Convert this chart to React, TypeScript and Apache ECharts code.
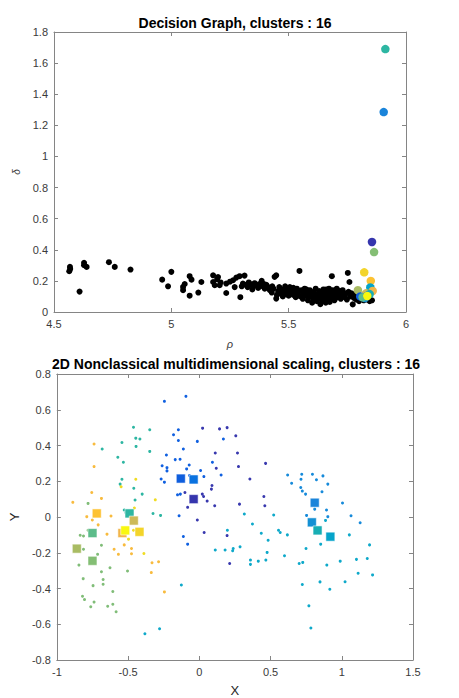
import React, { useEffect, useRef } from "react";
import * as echarts from "echarts";

// ---------- Decision graph data (rho, delta) ----------
const decisionBlack: [number, number][] = [
  [4.568, 0.29], [4.569, 0.277], [4.565, 0.262], [4.628, 0.316], [4.628, 0.301], [4.639, 0.29], [4.609, 0.131],
  [4.734, 0.32], [4.759, 0.29], [4.826, 0.273],
  [4.961, 0.208], [5.0, 0.258], [4.986, 0.165], [5.05, 0.161], [5.057, 0.18], [5.05, 0.14], [5.078, 0.23],
  [5.086, 0.208], [5.078, 0.105], [5.115, 0.125], [5.128, 0.193],
  [5.178, 0.236], [5.199, 0.225], [5.178, 0.193], [5.185, 0.172], [5.206, 0.172], [5.195, 0.21], [5.234, 0.122],
  [5.234, 0.183], [5.25, 0.195], [5.263, 0.204], [5.277, 0.221], [5.291, 0.23], [5.312, 0.234], [5.294, 0.095],
  [5.305, 0.183], [5.3, 0.165], [5.318, 0.175], [5.325, 0.16], [5.33, 0.19], [5.34, 0.178], [5.348, 0.165],
  [5.355, 0.185], [5.362, 0.17], [5.37, 0.155], [5.375, 0.18], [5.385, 0.2], [5.39, 0.165], [5.398, 0.15],
  [5.405, 0.175], [5.412, 0.16], [5.42, 0.14], [5.428, 0.125], [5.435, 0.15], [5.44, 0.226], [5.447, 0.236],
  [5.447, 0.086], [5.45, 0.11], [5.455, 0.135], [5.46, 0.16], [5.465, 0.12], [5.47, 0.145], [5.475, 0.1],
  [5.48, 0.13], [5.485, 0.165], [5.49, 0.115], [5.495, 0.14], [5.5, 0.105], [5.505, 0.16], [5.51, 0.125],
  [5.515, 0.145], [5.52, 0.11], [5.525, 0.135], [5.53, 0.095], [5.535, 0.15], [5.54, 0.12], [5.546, 0.264],
  [5.55, 0.1], [5.555, 0.14], [5.56, 0.085], [5.562, 0.12], [5.568, 0.15], [5.572, 0.105], [5.578, 0.13],
  [5.582, 0.075], [5.585, 0.095], [5.59, 0.14], [5.595, 0.115], [5.6, 0.06], [5.603, 0.09], [5.607, 0.13],
  [5.612, 0.105], [5.615, 0.15], [5.62, 0.07], [5.623, 0.115], [5.628, 0.085], [5.63, 0.135], [5.635, 0.05],
  [5.638, 0.1], [5.642, 0.125], [5.645, 0.07], [5.648, 0.145], [5.652, 0.09], [5.655, 0.11], [5.658, 0.06],
  [5.662, 0.13], [5.665, 0.08], [5.668, 0.1], [5.672, 0.15], [5.675, 0.065], [5.678, 0.12], [5.682, 0.09],
  [5.684, 0.23], [5.688, 0.14], [5.692, 0.105], [5.695, 0.075], [5.7, 0.125], [5.705, 0.15], [5.708, 0.095],
  [5.712, 0.115], [5.718, 0.135], [5.722, 0.085], [5.728, 0.105], [5.732, 0.125], [5.738, 0.095], [5.742, 0.115],
  [5.748, 0.08], [5.752, 0.251], [5.755, 0.13], [5.759, 0.193], [5.762, 0.1], [5.768, 0.12], [5.773, 0.049],
  [5.778, 0.09], [5.782, 0.11], [5.788, 0.08], [5.795, 0.1], [5.8, 0.07], [5.81, 0.085], [5.82, 0.075],
  [5.835, 0.08], [5.845, 0.07], [5.855, 0.075],
  [5.21, 0.19], [5.27, 0.16], [5.345, 0.145], [5.395, 0.18], [5.43, 0.165], [5.52, 0.155], [5.575, 0.145],
  [5.6, 0.125], [5.66, 0.145], [5.7, 0.095], [5.73, 0.14], [5.62, 0.095], [5.58, 0.11], [5.54, 0.135]
];

const clusterColors = [
  "#3535AD", "#0F5EDD", "#0A72E0", "#1A84DA", "#1490D4", "#06A4CA", "#17AEB4", "#2DB6A2",
  "#5CBC8A", "#84BE74", "#A9BC63", "#CDBA58", "#F2B54A", "#FDC232", "#F3D42A", "#F9F80F"
];

// decision-graph centres: [rho, delta, cluster index]
const decisionCenters: [number, number, number][] = [
  [5.912, 1.69, 7], [5.905, 1.285, 3], [5.855, 0.45, 0], [5.864, 0.385, 9], [5.822, 0.255, 14],
  [5.85, 0.2, 13], [5.848, 0.158, 5], [5.858, 0.135, 12], [5.795, 0.14, 10], [5.83, 0.12, 11],
  [5.845, 0.115, 6], [5.825, 0.09, 4], [5.805, 0.1, 1], [5.815, 0.095, 8], [5.835, 0.105, 2], [5.835, 0.103, 15]
];

// ---------- MDS data (x, y) ----------
const ptsDarkBlue: [number, number][] = [
  [0.023, 0.497], [0.142, 0.493], [0.195, 0.5], [0.256, 0.454], [0.112, 0.358], [0.268, 0.358], [0.119, 0.273],
  [0.275, 0.282], [0.465, 0.3], [0.355, 0.213], [0.089, 0.176], [0.085, 0.156], [-0.101, 0.137], [0.021, 0.128],
  [0.03, 0.115], [0.055, 0.089], [0.108, 0.063], [-0.082, 0.054], [0.282, 0.072], [0.453, 0.115], [0.46, 0.063],
  [-0.014, -0.017], [0.034, -0.087], [0.195, -0.104], [0.213, -0.26]
];
const ptsBlue: [number, number][] = [
  [-0.245, 0.647], [-0.094, 0.675], [-0.147, 0.488], [-0.181, 0.46], [-0.147, 0.428], [-0.112, 0.38],
  [-0.014, 0.423], [0.169, 0.436], [-0.231, 0.347], [-0.169, 0.321], [-0.135, 0.323], [-0.261, 0.287],
  [-0.227, 0.276], [-0.227, 0.258], [-0.071, 0.291], [-0.089, 0.269], [0.009, 0.26], [0.092, 0.306],
  [0.153, 0.235], [-0.268, 0.213], [-0.245, 0.195], [0.032, 0.226], [-0.153, 0.124], [-0.133, 0.128],
  [-0.142, 0.007], [-0.112, -0.109], [-0.082, -0.152], [-0.069, 0.232]
];
const ptsRightBlue: [number, number][] = [
  [0.62, 0.235], [0.719, 0.239], [0.794, 0.239], [0.868, 0.23], [0.648, 0.189], [0.714, 0.211], [0.822, 0.208],
  [0.902, 0.184], [0.712, 0.165], [0.723, 0.145], [0.746, 0.128], [0.861, 0.141], [1.005, 0.078], [0.893, 0.039],
  [0.753, 0.009], [0.81, 0.044], [0.902, 0.002], [1.065, 0.007], [1.129, -0.032]
];
const ptsCyan: [number, number][] = [
  [0.886, -0.019], [1.053, -0.1], [1.195, -0.156], [0.989, -0.247], [1.103, -0.237], [1.179, -0.232],
  [1.115, -0.315], [1.216, -0.324], [0.852, -0.152], [0.895, -0.269], [0.749, -0.176], [0.701, -0.26],
  [0.726, -0.254], [0.723, -0.378], [0.847, -0.363], [0.916, -0.404], [1.023, -0.362], [0.769, -0.497],
  [0.783, -0.621], [0.316, 0.017], [0.373, -0.039], [0.522, 0.011], [0.435, -0.091], [0.483, -0.13],
  [0.556, -0.074], [0.568, -0.087], [0.618, -0.1], [0.476, -0.198], [0.598, -0.217], [0.467, -0.241],
  [0.414, -0.247], [0.359, -0.241], [0.359, -0.265], [0.286, -0.167], [0.238, -0.176], [0.234, -0.189],
  [0.181, -0.185], [0.112, -0.185], [0.197, -0.074], [-0.126, -0.38], [-0.382, -0.653], [-0.279, -0.625]
];
const ptsTeal: [number, number][] = [
  [-0.462, 0.502], [-0.348, 0.488], [-0.446, 0.441], [-0.417, 0.436], [-0.543, 0.417], [-0.444, 0.395],
  [-0.682, 0.38], [-0.348, 0.367], [-0.572, 0.334], [-0.533, 0.306], [-0.543, 0.211], [-0.556, 0.184],
  [-0.46, 0.161], [-0.401, 0.128], [-0.451, 0.095], [-0.325, 0.02], [-0.272, 0.009], [-0.527, 0.039],
  [-0.515, 0.024], [-0.504, 0.032]
];
const ptsGreen: [number, number][] = [
  [-0.781, 0.076], [-0.781, -0.074], [-0.836, -0.102], [-0.813, -0.106], [-0.687, -0.158], [-0.813, -0.18],
  [-0.714, -0.209], [-0.845, -0.269], [-0.687, -0.306], [-0.627, -0.284], [-0.504, -0.302], [-0.815, -0.345],
  [-0.746, -0.384], [-0.675, -0.35], [-0.675, -0.376], [-0.607, -0.417], [-0.82, -0.443], [-0.806, -0.462],
  [-0.739, -0.476], [-0.762, -0.502], [-0.643, -0.499], [-0.607, -0.488], [-0.584, -0.53], [-0.737, -0.232]
];
const ptsOrange: [number, number][] = [
  [-0.739, 0.408], [-0.739, 0.282], [-0.755, 0.137], [-0.687, 0.104], [-0.888, 0.082], [-0.79, 0.002],
  [-0.751, -0.017], [-0.62, 0.006], [-0.71, -0.044], [-0.648, -0.096], [-0.598, -0.18], [-0.568, -0.209],
  [-0.476, -0.176], [-0.476, -0.206], [-0.527, -0.156], [-0.332, -0.256], [-0.286, -0.25], [-0.337, -0.311],
  [-0.245, -0.419]
];
const ptsYellow: [number, number][] = [
  [-0.549, 0.169], [-0.446, 0.211], [-0.309, 0.096], [-0.456, 0.05], [-0.497, -0.124], [-0.389, -0.204],
  [-0.462, -0.074]
];

// MDS centres: [x, y, cluster index]
const mdsCenters: [number, number, number][] = [
  [-0.04, 0.1, 0], [-0.13, 0.215, 1], [-0.04, 0.21, 2], [0.81, 0.08, 3], [0.79, -0.03, 4], [0.92, -0.11, 5],
  [0.83, -0.075, 6], [-0.49, 0.02, 7], [-0.75, -0.09, 8], [-0.75, -0.245, 9], [-0.86, -0.177, 10],
  [-0.46, -0.02, 11], [-0.54, -0.09, 12], [-0.72, 0.02, 13], [-0.42, -0.083, 14], [-0.52, -0.075, 15]
];

const pointGroups: { data: [number, number][]; color: string }[] = [
  { data: ptsDarkBlue, color: "#3838AE" },
  { data: ptsBlue, color: "#1060E0" },
  { data: ptsRightBlue, color: "#168ADA" },
  { data: ptsCyan, color: "#0EA9CA" },
  { data: ptsTeal, color: "#2DB6A2" },
  { data: ptsGreen, color: "#80BD78" },
  { data: ptsOrange, color: "#F8BB3E" },
  { data: ptsYellow, color: "#F0DC22" }
];

const FONT = "'Liberation Sans', Arial, Helvetica, sans-serif";
const AXIS_LINE = "#858585";
const LABEL = "#3a3a3a";

function mainAxis(extra: any) {
  return {
    axisLine: { show: true, onZero: false, lineStyle: { color: AXIS_LINE, width: 1 } },
    axisTick: { show: true, inside: true, length: 4, lineStyle: { color: AXIS_LINE } },
    axisLabel: { color: LABEL, fontSize: 11, fontFamily: FONT, margin: 6 },
    splitLine: { show: false },
    ...extra
  };
}
function boxAxis(extra: any) {
  return {
    axisLine: { show: true, onZero: false, lineStyle: { color: AXIS_LINE, width: 1 } },
    axisTick: { show: true, inside: true, length: 4, lineStyle: { color: AXIS_LINE } },
    axisLabel: { show: false },
    splitLine: { show: false },
    ...extra
  };
}

export default function App() {
  const ref = useRef<HTMLDivElement>(null);
  useEffect(() => {
    if (!ref.current) return;
    const chart = echarts.init(ref.current, null, { renderer: "svg" });
    const series: any[] = [];
    series.push({
      type: "scatter",
      xAxisIndex: 0,
      yAxisIndex: 0,
      data: decisionBlack,
      symbolSize: 6,
      itemStyle: { color: "#000", opacity: 1 },
      silent: true
    });
    decisionCenters.forEach((c) => {
      series.push({
        type: "scatter",
        xAxisIndex: 0,
        yAxisIndex: 0,
        data: [[c[0], c[1]]],
        symbolSize: 8.5,
        itemStyle: { color: clusterColors[c[2]], opacity: 1 },
        silent: true
      });
    });
    pointGroups.forEach((g) => {
      series.push({
        type: "scatter",
        xAxisIndex: 2,
        yAxisIndex: 2,
        data: g.data,
        symbolSize: 3,
        itemStyle: { color: g.color, opacity: 1 },
        silent: true
      });
    });
    mdsCenters.forEach((c) => {
      series.push({
        type: "scatter",
        xAxisIndex: 2,
        yAxisIndex: 2,
        data: [[c[0], c[1]]],
        symbol: "rect",
        symbolSize: 9,
        itemStyle: {
          color: clusterColors[c[2]],
          borderColor: "rgba(255,255,255,0.55)",
          borderWidth: 1,
          opacity: 1
        },
        silent: true
      });
    });

    chart.setOption({
      animation: false,
      backgroundColor: "#fff",
      title: [
        {
          text: "Decision Graph, clusters : 16",
          left: 230,
          top: 11,
          textAlign: "center",
          textStyle: { fontSize: 14, fontWeight: "bold", color: "#000", fontFamily: FONT }
        },
        {
          text: "2D Nonclassical multidimensional scaling, clusters : 16",
          left: 231,
          top: 352,
          textAlign: "center",
          textStyle: { fontSize: 14, fontWeight: "bold", color: "#000", fontFamily: FONT }
        }
      ],
      grid: [
        { left: 54, top: 32, width: 352, height: 280, containLabel: false },
        { left: 49, top: 374, width: 364, height: 288, containLabel: false }
      ],
      xAxis: [
        mainAxis({
          type: "value", gridIndex: 0, position: "bottom", min: 4.5, max: 6, interval: 0.5,
          name: "ρ", nameLocation: "middle", nameGap: 26,
          nameTextStyle: { color: LABEL, fontSize: 11, fontStyle: "italic", fontFamily: FONT }
        }),
        boxAxis({ type: "value", gridIndex: 0, position: "top", min: 4.5, max: 6, interval: 0.5 }),
        mainAxis({
          type: "value", gridIndex: 1, position: "bottom", min: -1, max: 1.5, interval: 0.5,
          name: "X", nameLocation: "middle", nameGap: 24,
          nameTextStyle: { color: "#262626", fontSize: 13, fontFamily: FONT }
        }),
        boxAxis({ type: "value", gridIndex: 1, position: "top", min: -1, max: 1.5, interval: 0.5 })
      ],
      yAxis: [
        mainAxis({
          type: "value", gridIndex: 0, position: "left", min: 0, max: 1.8, interval: 0.2,
          name: "δ", nameLocation: "middle", nameGap: 27,
          nameTextStyle: { color: LABEL, fontSize: 10, fontStyle: "italic", fontFamily: FONT }
        }),
        boxAxis({ type: "value", gridIndex: 0, position: "right", min: 0, max: 1.8, interval: 0.2 }),
        mainAxis({
          type: "value", gridIndex: 1, position: "left", min: -0.8, max: 0.8, interval: 0.2,
          name: "Y", nameLocation: "middle", nameGap: 30,
          nameTextStyle: { color: "#262626", fontSize: 13, fontFamily: FONT }
        }),
        boxAxis({ type: "value", gridIndex: 1, position: "right", min: -0.8, max: 0.8, interval: 0.2 })
      ],
      series
    });
    return () => chart.dispose();
  }, []);
  return (
    <div
      ref={ref}
      style={{ position: "absolute", left: 0, top: 0, width: 459, height: 698, background: "#fff" }}
    />
  );
}
